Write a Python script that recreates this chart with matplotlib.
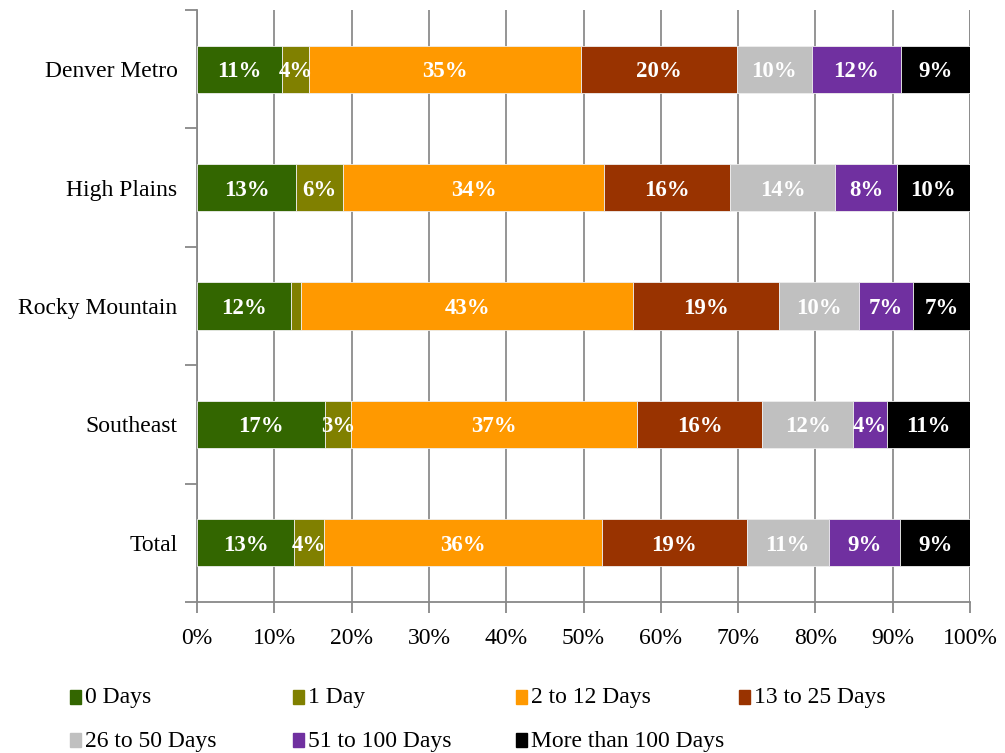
import matplotlib
matplotlib.use("Agg")
import matplotlib.pyplot as plt
from matplotlib.patches import Rectangle
import numpy as np

categories = ["Denver Metro", "High Plains", "Rocky Mountain", "Southeast", "Total"]
series_names = ["0 Days", "1 Day", "2 to 12 Days", "13 to 25 Days",
                "26 to 50 Days", "51 to 100 Days", "More than 100 Days"]
colors = ["#336600", "#808000", "#FF9900", "#993300", "#C0C0C0", "#7030A0", "#000000"]

# percent values per series, in category order
days_0 = [11.0, 12.8, 12.2, 16.6, 12.6]
days_1 = [3.5, 6.1, 1.3, 3.3, 3.8]
days_2_12 = [35.2, 33.8, 42.9, 37.0, 36.0]
days_13_25 = [20.2, 16.3, 18.9, 16.2, 18.7]
days_26_50 = [9.6, 13.6, 10.4, 11.8, 10.6]
days_51_100 = [11.6, 7.9, 6.9, 4.4, 9.3]
days_100_plus = [8.9, 9.5, 7.4, 10.7, 9.0]
series = [days_0, days_1, days_2_12, days_13_25, days_26_50, days_51_100, days_100_plus]
xticks = [0, 10, 20, 30, 40, 50, 60, 70, 80, 90, 100]

plt.rcParams['font.family'] = ['Liberation Serif', 'DejaVu Serif']

fig = plt.figure(figsize=(10.05, 7.53), dpi=100)
ax = fig.add_axes([197/1005, 1-602/753, 773/1005, 592/753])

y = np.arange(len(categories))
left = np.zeros(len(categories))
for name, vals, c in zip(series_names, series, colors):
    vals = np.array(vals)
    ax.barh(y, vals, left=left, height=0.4, color=c, edgecolor='#eeeeee',
            linewidth=0.6, label=name, zorder=3)
    for yi, l, v in zip(y, left, vals):
        if v >= 2:
            ax.text(l + v/2, yi, f"{v:.0f}%", ha='center', va='center_baseline', color='white',
                    fontsize=16.5, fontweight='bold', zorder=4)
    left += vals

ax.set_xlim(0, 100)
ax.set_ylim(len(categories)-0.5, -0.5)
ax.set_xticks(xticks)
ax.set_xticklabels([f"{t}%" for t in xticks], fontsize=17)
ax.set_yticks(y)
ax.set_yticklabels(categories, fontsize=17)
ax.set_yticks(np.arange(-0.5, len(categories)), minor=True)
ax.tick_params(axis='y', which='major', length=0, pad=14)
ax.tick_params(axis='y', which='minor', length=9, color='#888888', width=1.3)
ax.tick_params(axis='x', which='major', length=8, color='#888888', width=1.3, pad=11)
ax.xaxis.grid(True, color='#8c8c8c', linewidth=1.3, zorder=0)
ax.set_axisbelow(True)
for s in ['top', 'right']:
    ax.spines[s].set_visible(False)
for s in ['left', 'bottom']:
    ax.spines[s].set_color('#888888')
    ax.spines[s].set_linewidth(1.3)
ax.axvline(100, color='#8c8c8c', linewidth=1.3, zorder=0)

# legend, manual grid: 4 columns x 2 rows
col_x = [75, 298, 521, 744]
row_y = [697, 740]
for i, (name, c) in enumerate(zip(series_names, colors)):
    cx = col_x[i % 4]
    cy = row_y[i // 4]
    fig.patches.append(Rectangle(((cx-5)/1005, 1-(cy+7)/753), 11/1005, 14/753,
                                 transform=fig.transFigure, color=c, figure=fig))
    fig.text((cx+10)/1005, 1-(cy+1)/753, name, ha='left', va='center', fontsize=17)

fig.savefig("out.png", dpi=100, facecolor='white')
